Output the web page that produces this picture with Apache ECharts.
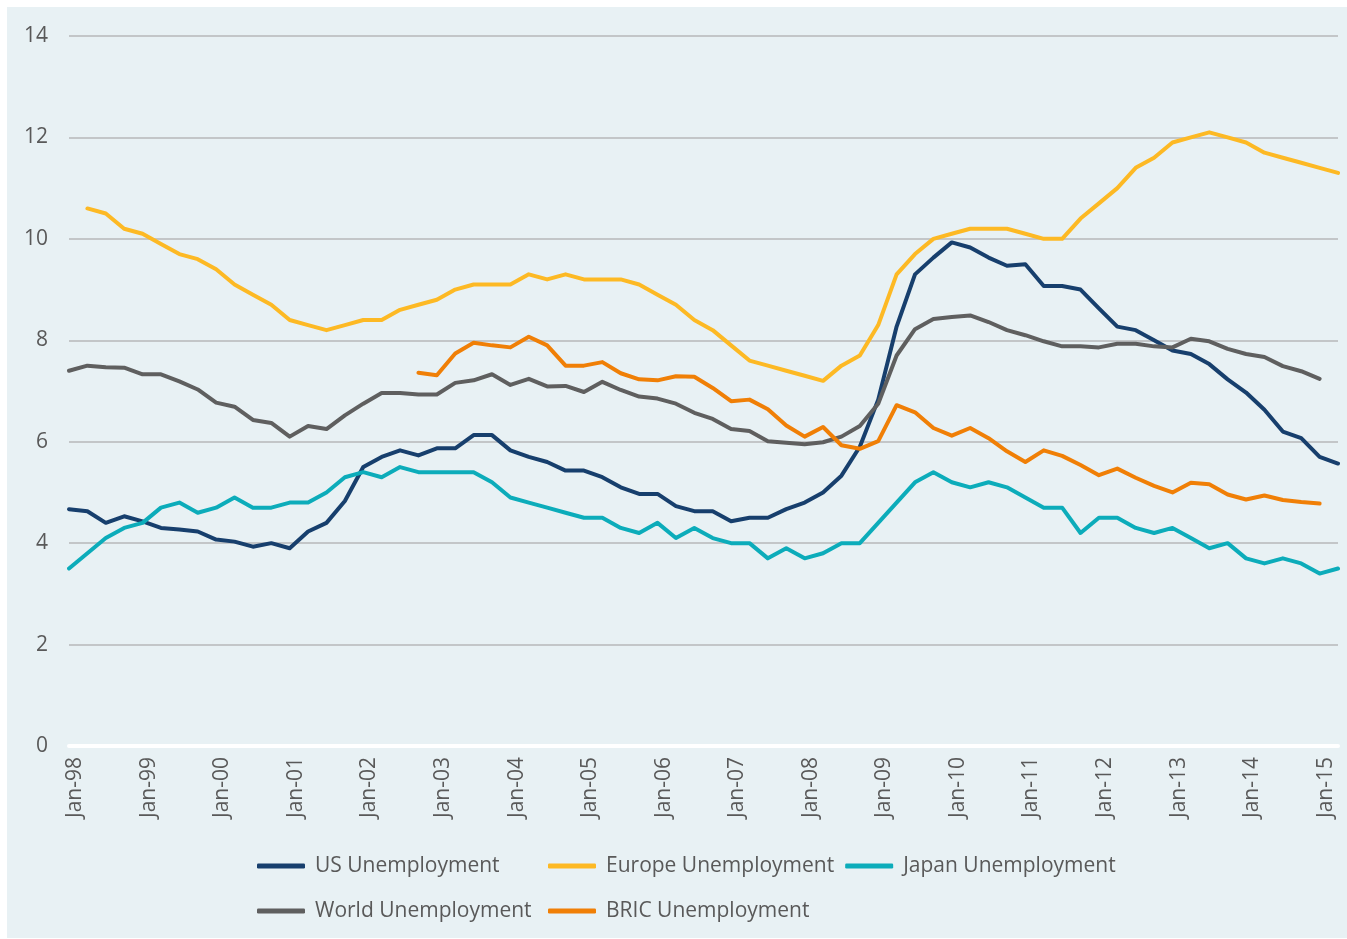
<!DOCTYPE html>
<html>
<head>
<meta charset="utf-8">
<title>Unemployment</title>
<script src="https://cdn.jsdelivr.net/npm/echarts@6/dist/echarts.min.js"></script>
<style>
  html, body { margin: 0; padding: 0; background: #fff; }
  .wrap { position: relative; width: 1347px; height: 939px; }
  .panel { position: absolute; left: 7px; top: 7px; right: 0; bottom: 1px; background: #e8f1f4; }
  #chart { position: absolute; left: 0; top: 0; width: 1347px; height: 939px; }
</style>
</head>
<body>
<div class="wrap">
  <div class="panel"></div>
  <div id="chart"></div>
</div>
<script>
// quarter-end points, Dec-97 .. Mar-15 (x = months after Dec-97)
const quarterMonths = Array.from({ length: 70 }, (_, k) => 3 * k);

// Jan ticks (months after Dec-97) and their labels
const tickMonths = [1, 13, 25, 37, 49, 61, 73, 85, 97, 109, 121, 133, 145, 157, 169, 181, 193, 205];
const tickLabels = ['Jan-98', 'Jan-99', 'Jan-00', 'Jan-01', 'Jan-02', 'Jan-03', 'Jan-04', 'Jan-05', 'Jan-06',
  'Jan-07', 'Jan-08', 'Jan-09', 'Jan-10', 'Jan-11', 'Jan-12', 'Jan-13', 'Jan-14', 'Jan-15'];

const usUnemp = [4.67, 4.63, 4.40, 4.53, 4.43, 4.30, 4.27, 4.23, 4.07, 4.03,
  3.93, 4.00, 3.90, 4.23, 4.40, 4.83, 5.50, 5.70, 5.83, 5.73,
  5.87, 5.87, 6.13, 6.13, 5.83, 5.70, 5.60, 5.43, 5.43, 5.30,
  5.10, 4.97, 4.97, 4.73, 4.63, 4.63, 4.43, 4.50, 4.50, 4.67,
  4.80, 5.00, 5.33, 5.90, 6.83, 8.27, 9.30, 9.63, 9.93, 9.83,
  9.63, 9.47, 9.50, 9.07, 9.07, 9.00, 8.63, 8.27, 8.20, 8.00,
  7.80, 7.73, 7.53, 7.23, 6.97, 6.63, 6.20, 6.07, 5.70, 5.57];

const europeUnemp = [null, 10.6, 10.5, 10.2, 10.1, 9.9, 9.7, 9.6, 9.4, 9.1,
  8.9, 8.7, 8.4, 8.3, 8.2, 8.3, 8.4, 8.4, 8.6, 8.7,
  8.8, 9.0, 9.1, 9.1, 9.1, 9.3, 9.2, 9.3, 9.2, 9.2,
  9.2, 9.1, 8.9, 8.7, 8.4, 8.2, 7.9, 7.6, 7.5, 7.4,
  7.3, 7.2, 7.5, 7.7, 8.3, 9.3, 9.7, 10.0, 10.1, 10.2,
  10.2, 10.2, 10.1, 10.0, 10.0, 10.4, 10.7, 11.0, 11.4, 11.6,
  11.9, 12.0, 12.1, 12.0, 11.9, 11.7, 11.6, 11.5, 11.4, 11.3];

const japanUnemp = [3.5, 3.8, 4.1, 4.3, 4.4, 4.7, 4.8, 4.6, 4.7, 4.9,
  4.7, 4.7, 4.8, 4.8, 5.0, 5.3, 5.4, 5.3, 5.5, 5.4,
  5.4, 5.4, 5.4, 5.2, 4.9, 4.8, 4.7, 4.6, 4.5, 4.5,
  4.3, 4.2, 4.4, 4.1, 4.3, 4.1, 4.0, 4.0, 3.7, 3.9,
  3.7, 3.8, 4.0, 4.0, 4.4, 4.8, 5.2, 5.4, 5.2, 5.1,
  5.2, 5.1, 4.9, 4.7, 4.7, 4.2, 4.5, 4.5, 4.3, 4.2,
  4.3, 4.1, 3.9, 4.0, 3.7, 3.6, 3.7, 3.6, 3.4, 3.5];

const worldUnemp = [7.40, 7.50, 7.47, 7.46, 7.33, 7.33, 7.19, 7.03, 6.77, 6.69,
  6.43, 6.37, 6.10, 6.31, 6.25, 6.52, 6.75, 6.96, 6.96, 6.93,
  6.93, 7.16, 7.21, 7.33, 7.12, 7.24, 7.09, 7.10, 6.98, 7.18,
  7.02, 6.89, 6.85, 6.75, 6.57, 6.45, 6.25, 6.21, 6.01, 5.98,
  5.95, 5.99, 6.10, 6.31, 6.75, 7.70, 8.22, 8.42, 8.46, 8.49,
  8.36, 8.20, 8.10, 7.98, 7.88, 7.88, 7.86, 7.93, 7.93, 7.88,
  7.86, 8.03, 7.98, 7.83, 7.73, 7.67, 7.49, 7.39, 7.24, null];

const bricUnemp = [null, null, null, null, null, null, null, null, null, null,
  null, null, null, null, null, null, null, null, null, 7.36,
  7.31, 7.74, 7.95, 7.90, 7.86, 8.07, 7.90, 7.50, 7.50, 7.57,
  7.35, 7.23, 7.21, 7.29, 7.28, 7.06, 6.80, 6.83, 6.64, 6.32,
  6.10, 6.29, 5.93, 5.86, 6.01, 6.72, 6.58, 6.27, 6.12, 6.27,
  6.07, 5.81, 5.60, 5.83, 5.72, 5.54, 5.34, 5.47, 5.29, 5.13,
  5.00, 5.19, 5.16, 4.96, 4.86, 4.94, 4.85, 4.81, 4.78, null];

const seriesList = [
  { name: 'US Unemployment', values: usUnemp, color: '#173f6d' },
  { name: 'Europe Unemployment', values: europeUnemp, color: '#fdb924' },
  { name: 'Japan Unemployment', values: japanUnemp, color: '#0cacba' },
  { name: 'World Unemployment', values: worldUnemp, color: '#5f5f5f' },
  { name: 'BRIC Unemployment', values: bricUnemp, color: '#f07f06' }
];

const FONT = '"Open Sans", sans-serif';
const TEXT = '#595959';

const chart = echarts.init(document.getElementById('chart'));

const option = {
  backgroundColor: 'transparent',
  animation: false,
  textStyle: { fontFamily: FONT },
  grid: { left: 69, right: 9, top: 36, bottom: 193 },
  legend: {
    left: 252,
    top: 844,
    width: 900,
    itemWidth: 48,
    itemHeight: 5,
    itemGap: 11,
    icon: 'roundRect',
    textStyle: {
      color: TEXT,
      fontSize: 21,
      fontFamily: FONT,
      lineHeight: 34,
      width: 222,
      padding: [0, 0, 0, 5]
    },
    data: seriesList.map(s => s.name)
  },
  xAxis: {
    type: 'value',
    min: 0,
    max: 207,
    splitLine: { show: false },
    axisTick: { show: false },
    axisLine: { show: true, onZero: false, lineStyle: { color: '#ffffff', width: 4 } },
    axisLabel: {
      customValues: tickMonths,
      rotate: 90,
      margin: 11,
      color: TEXT,
      fontSize: 21,
      fontFamily: FONT,
      formatter: v => tickLabels[tickMonths.indexOf(v)]
    }
  },
  yAxis: {
    type: 'value',
    min: 0,
    max: 14,
    interval: 2,
    axisLine: { show: false },
    axisTick: { show: false },
    splitLine: { lineStyle: { color: '#c3c6c8', width: 2 } },
    axisLabel: { color: TEXT, fontSize: 21, fontFamily: FONT, margin: 21 }
  },
  series: seriesList.map(s => ({
    name: s.name,
    type: 'line',
    showSymbol: false,
    symbol: 'none',
    color: s.color,
    lineStyle: { width: 4, color: s.color, cap: 'round', join: 'round' },
    data: quarterMonths.map((m, i) => [m, s.values[i]])
  }))
};

chart.setOption(option);
</script>
</body>
</html>
